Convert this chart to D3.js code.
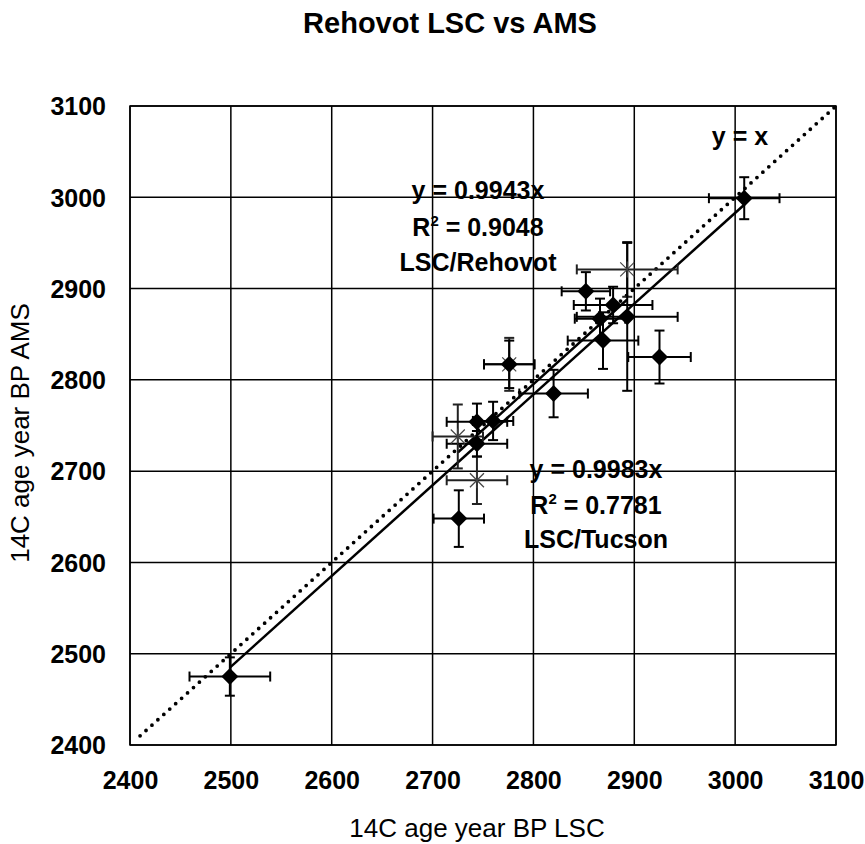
<!DOCTYPE html>
<html><head><meta charset="utf-8">
<script src="https://cdn.jsdelivr.net/npm/d3@7"></script>
<style>body{margin:0;background:#fff;} svg{display:block;}</style>
</head><body><svg id="c" width="865" height="844"></svg>
<script>
// Rehovot LSC vs AMS data (diamonds)
const rehovotLSC  = [2499, 3009, 2852, 2879, 2866, 2893, 2869, 2925, 2776, 2820, 2744, 2760, 2744, 2726];
const rehovotAMS  = [2475, 2999, 2897, 2882, 2867, 2869, 2843, 2825, 2817, 2785, 2754, 2755, 2730, 2648];
const rehovotXerr = [40, 35, 24, 39, 25, 50, 35, 31, 25, 34, 30, 20, 30, 25];
const rehovotYerr = [21, 23, 21, 20, 22, 81, 31, 29, 26, 26, 20, 21, 14, 31];
// Tucson series (asterisks)
const tucsonLSC  = [2725, 2744, 2776, 2893];
const tucsonAMS  = [2738, 2690, 2817, 2921];
const tucsonXerr = [25, 30, 25, 50];
const tucsonYerr = [35, 26, 29, 30];
// Trendlines (through origin)
const slopes = [0.9943, 0.9983];
const trendLabels = [["y = 0.9943x", "R2 = 0.9048", "LSC/Rehovot"], ["y = 0.9983x", "R2 = 0.7781", "LSC/Tucson"]];
const xTicks = [2400, 2500, 2600, 2700, 2800, 2900, 3000, 3100];
const yTicks = [2400, 2500, 2600, 2700, 2800, 2900, 3000, 3100];
const title = "Rehovot LSC vs AMS";
const xTitle = "14C age year BP LSC";
const yTitle = "14C age year BP AMS";

const svg = d3.select("#c");
const font = "'Liberation Sans', Arial, sans-serif";
const L = 130, R = 836, T = 106, B = 745;
const x = d3.scaleLinear().domain([2400, 3100]).range([L, R]);
const y = d3.scaleLinear().domain([2400, 3100]).range([B, T]);

// grid
const g = svg.append("g");
g.selectAll("line.v").data(xTicks).join("line")
  .attr("x1", d => x(d)).attr("x2", d => x(d)).attr("y1", T).attr("y2", B)
  .attr("stroke", "#000").attr("stroke-width", 1.5);
g.selectAll("line.h").data(yTicks).join("line")
  .attr("y1", d => y(d)).attr("y2", d => y(d)).attr("x1", L).attr("x2", R)
  .attr("stroke", "#000").attr("stroke-width", 1.5);

// axes tick labels via d3 axes
const xAxis = svg.append("g").attr("transform", `translate(0,${B})`)
  .call(d3.axisBottom(x).tickValues(xTicks).tickSize(0).tickPadding(0).tickFormat(d3.format("d")));
xAxis.select(".domain").remove();
xAxis.selectAll("text").attr("dy", null).attr("y", 44)
  .attr("font-family", font).attr("font-size", 25).attr("font-weight", "bold").attr("fill", "#000");
const yAxis = svg.append("g").attr("transform", `translate(${L},0)`)
  .call(d3.axisLeft(y).tickValues(yTicks).tickSize(0).tickPadding(0).tickFormat(d3.format("d")));
yAxis.select(".domain").remove();
yAxis.selectAll("text").attr("x", -24).attr("dy", "0.35em")
  .attr("font-family", font).attr("font-size", 25).attr("font-weight", "bold").attr("fill", "#000");

// titles
svg.append("text").attr("x", 450).attr("y", 33).attr("text-anchor", "middle")
  .attr("font-family", font).attr("font-size", 29).attr("font-weight", "bold").text(title);
svg.append("text").attr("x", 477).attr("y", 837).attr("text-anchor", "middle")
  .attr("font-family", font).attr("font-size", 26).text(xTitle);
svg.append("text").attr("transform", `translate(29,433) rotate(-90)`).attr("text-anchor", "middle")
  .attr("font-family", font).attr("font-size", 26).text(yTitle);

const clip = svg.append("defs").append("clipPath").attr("id", "pc").append("rect")
  .attr("x", L).attr("y", T).attr("width", R - L).attr("height", B - T);
const plot = svg.append("g").attr("clip-path", "url(#pc)");

// y = x dotted
plot.append("line").attr("x1", x(2410)).attr("y1", y(2410)).attr("x2", x(3100)).attr("y2", y(3100))
  .attr("stroke", "#000").attr("stroke-width", 3.8).attr("stroke-linecap", "round").attr("stroke-dasharray", "0 8");

// trendlines
const rExt = d3.extent(rehovotLSC), tExt = d3.extent(tucsonLSC);
[[slopes[0], rExt], [slopes[1], tExt]].forEach(([s, ext]) => {
  plot.append("line").attr("x1", x(ext[0])).attr("y1", y(s * ext[0])).attr("x2", x(ext[1])).attr("y2", y(s * ext[1]))
    .attr("stroke", "#000").attr("stroke-width", 2.5);
});

// error bars
function errBars(xs, ys, xe, ye, color) {
  const eg = plot.append("g").attr("stroke", color).attr("stroke-width", 2);
  xs.forEach((xv, i) => {
    const cx = x(xv), cy = y(ys[i]);
    const x0 = x(xv - xe[i]), x1 = x(xv + xe[i]), y0 = y(ys[i] - ye[i]), y1 = y(ys[i] + ye[i]);
    eg.append("line").attr("x1", x0).attr("x2", x1).attr("y1", cy).attr("y2", cy);
    eg.append("line").attr("x1", x0).attr("x2", x0).attr("y1", cy - 5).attr("y2", cy + 5);
    eg.append("line").attr("x1", x1).attr("x2", x1).attr("y1", cy - 5).attr("y2", cy + 5);
    eg.append("line").attr("x1", cx).attr("x2", cx).attr("y1", y0).attr("y2", y1);
    eg.append("line").attr("y1", y0).attr("y2", y0).attr("x1", cx - 5).attr("x2", cx + 5);
    eg.append("line").attr("y1", y1).attr("y2", y1).attr("x1", cx - 5).attr("x2", cx + 5);
  });
}
errBars(tucsonLSC, tucsonAMS, tucsonXerr, tucsonYerr, "#222");
errBars(rehovotLSC, rehovotAMS, rehovotXerr, rehovotYerr, "#000");

// asterisk markers
const ast = plot.append("g").attr("stroke", "#444").attr("stroke-width", 1.2);
tucsonLSC.forEach((xv, i) => {
  const cx = x(xv), cy = y(tucsonAMS[i]), s = 7;
  ast.append("line").attr("x1", cx - s).attr("y1", cy - s).attr("x2", cx + s).attr("y2", cy + s);
  ast.append("line").attr("x1", cx - s).attr("y1", cy + s).attr("x2", cx + s).attr("y2", cy - s);
  ast.append("line").attr("x1", cx).attr("y1", cy - s - 1).attr("x2", cx).attr("y2", cy + s + 1);
});
// diamonds
plot.selectAll("path.dia").data(rehovotLSC).join("path")
  .attr("d", (d, i) => { const cx = x(d), cy = y(rehovotAMS[i]), s = 8.5;
    return `M${cx},${cy - s}L${cx + s},${cy}L${cx},${cy + s}L${cx - s},${cy}Z`; })
  .attr("fill", "#000");

// labels
function label(lines, cx, ys) {
  lines.forEach((t, i) => {
    const tx = svg.append("text").attr("x", cx).attr("y", ys[i]).attr("text-anchor", "middle")
      .attr("font-family", font).attr("font-size", 25).attr("font-weight", "bold");
    if (t.startsWith("R2")) {
      tx.append("tspan").text("R");
      tx.append("tspan").attr("font-size", 15).attr("dy", -10).text("2");
      tx.append("tspan").attr("dy", 10).text(t.slice(2));
    } else tx.text(t);
  });
}
label(trendLabels[0], 478, [199, 236, 271]);
label(trendLabels[1], 596, [478, 514, 548]);
svg.append("text").attr("x", 740).attr("y", 145).attr("text-anchor", "middle")
  .attr("font-family", font).attr("font-size", 25).attr("font-weight", "bold").text("y = x");

// border
svg.append("rect").attr("x", L).attr("y", T).attr("width", R - L).attr("height", B - T)
  .attr("fill", "none").attr("stroke", "#000").attr("stroke-width", 1.5);
</script></body></html>
